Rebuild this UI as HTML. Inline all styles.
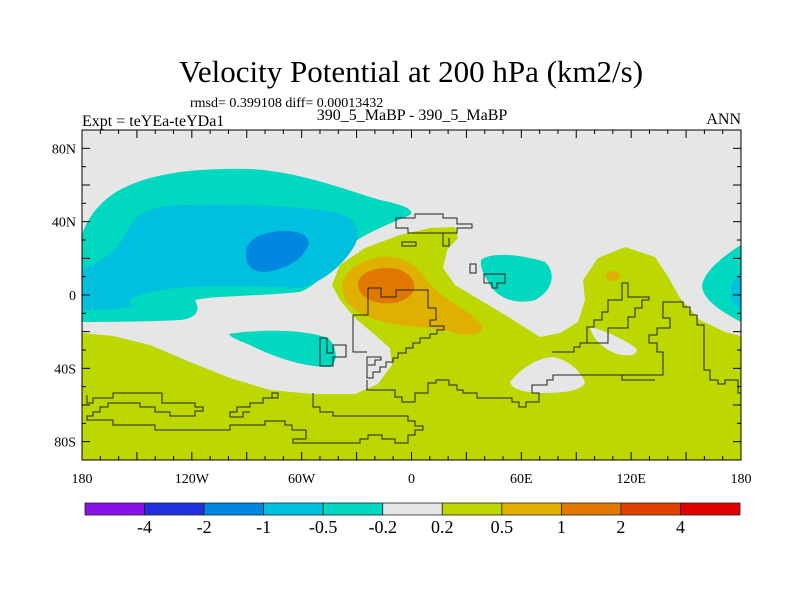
<!DOCTYPE html>
<html><head><meta charset="utf-8"><style>
html,body{margin:0;padding:0;background:#fff;}
svg{display:block;font-family:"Liberation Serif",serif;}
</style></head><body>
<svg id="fig" width="800" height="600" viewBox="0 0 800 600" xmlns="http://www.w3.org/2000/svg">
<text x="411" y="82" font-size="31" text-anchor="middle">Velocity Potential at 200 hPa (km2/s)</text>
<text x="190" y="107" font-size="14">rmsd= 0.399108 diff= 0.00013432</text>
<text x="82" y="126" font-size="16">Expt = teYEa-teYDa1</text>
<text x="412" y="120" font-size="16" text-anchor="middle">390_5_MaBP - 390_5_MaBP</text>
<text x="741" y="124" font-size="16" text-anchor="end">ANN</text>
<defs><clipPath id="pc"><rect x="82" y="130" width="659" height="330"/></clipPath></defs>
<g clip-path="url(#pc)">
<rect x="82" y="130" width="659" height="330" fill="#e6e6e6"/>
<path fill="#bcd800" d="M82,333 L113,336 150,345 190,362 230,378 270,390 313,394 355,394 378,384 392,365 390,348 375,335 355,318 340,300 332,285 340,265 365,248 400,235 430,228 455,227 458,238 447,250 443,268 455,285 480,300 510,318 540,337 560,333 578,322 585,300 583,280 598,258 625,247 655,257 667,275 680,298 700,320 725,332 741,336 741,460 82,460 Z"/>
<path fill="#e6e6e6" d="M590,327 C605,330 625,340 636,348 C640,356 625,358 612,352 C600,346 592,337 590,327 Z"/>
<path fill="#e6e6e6" d="M510,382 C520,370 535,358 553,357 C568,360 580,370 585,382 C582,392 560,393 540,393 C525,392 512,390 510,382 Z"/>
<path fill="#e0b000" d="M342,285 C344,272 355,262 380,257 C400,255 415,262 428,282 C440,298 470,310 482,325 C484,336 468,338 445,330 C420,327 390,326 365,316 C350,308 342,298 342,285 Z"/>
<path fill="#e07800" d="M358,283 C360,272 375,267 392,268 C408,270 416,280 414,290 C410,300 395,305 380,303 C365,300 357,292 358,283 Z"/>
<ellipse cx="613" cy="276" rx="7" ry="5" fill="#e0b000"/>
<path fill="#00d8c0" d="M82,235 C88,215 105,195 130,185 C160,172 200,168 250,169 C300,172 340,188 380,200 C405,205 415,210 410,215 C395,222 370,230 350,245 C335,262 322,283 300,292 C260,296 210,296 195,300 C200,310 198,318 180,320 C140,322 100,322 82,322 Z"/>
<path fill="#00c0e0" d="M82,270 C100,262 118,250 125,235 C135,212 150,205 190,205 C240,204 300,206 335,212 C355,218 362,228 355,245 C345,262 328,280 300,288 C260,286 200,284 160,290 C135,296 120,300 135,306 C115,310 95,310 82,310 Z"/>
<path fill="#0088e0" d="M246,255 C245,240 260,232 282,231 C300,230 312,237 308,246 C302,260 285,270 265,272 C252,272 246,265 246,255 Z"/>
<path fill="#00d8c0" d="M229,334 C255,330 300,328 328,338 C338,348 338,362 330,367 C300,367 270,355 250,345 C238,340 230,337 229,334 Z"/>
<path fill="#00d8c0" d="M481,260 C490,252 520,254 545,262 C556,272 554,290 535,300 C515,305 498,298 490,285 C484,275 480,268 481,260 Z"/>
<path fill="#00d8c0" d="M741,245 C725,255 705,270 702,285 C702,298 718,310 741,322 Z"/>
<path fill="#00c0e0" d="M741,272 C732,280 728,292 733,302 C736,306 739,309 741,310 Z"/>
<g fill="none" stroke="#222" stroke-width="1">
<path d="M396,218 V228 H408 V233 H457 V228 H472 V224 H457 V218 H443 V214 H415 V218 Z M443,233 V246 H449 V238"/>
<rect x="402" y="242" width="14" height="4"/>
<rect x="470" y="264" width="6" height="9"/>
<path d="M484,274 H505 V283 H497 V288 H492 V283 H484 Z"/>
<path d="M353,315 H368 V288 H381 V297 H396 V290 H428 V308 H436 V320 H430 V326 H444 V330 H437 V334 H430 V338 H420 V343 H413 V348 H406 V353 H398 V358 H393 V362 H386 V367 H380 V372 H373 V378 H367 V357 H381 V360 H375 V365 H368 M353,315 V352 H367"/>
<path d="M320,338 H327 V353 H333 V345 H346 V357 H333 V366 H320 Z"/>
<path d="M313,393 V407 H320 V412 H333 V416 H408 V421 H415 V426 H423 V430 H415 V435 H408 V443 H395 V439 H382 V435 H368 V439 H360 V443 H293 V439 H306 V430 H292 V425 H285 V421 H265 V425 H230 V430 H155 V425 H113 V420 H87 V416 H93 V412 H100 V407 H108 V403 H140 V407 H155 V412 H170 V416 H195 V411 H203 V407 H195 V403 H162 V393 H113 V398 H93 V403 H87 V395"/>
<path d="M230,417 V412 H237 V407 H250 V403 H263 V398 H272 V393 H278 V398 H272 M230,417 H243 V412 H250"/>
<path d="M367,380 V390 H395 V397 H402 V402 H415 V393 H428 V383 H436 V380 H449 V385 H457 V390 H463 V393 H477 V398 H512 V402 H519 V407 H526 V402 H539 V393 H532 V385 H547 V380 H553 V375 H663 V352 H657 V343 H649 V335 H657 V328 H670 V318 H663 V302 H683 V307 H690 V315 H697 V325 H704 V370 H710 V380 H718 V384 H725 V380 H738 V393 H741"/>
<path d="M552,352 H574 V347 H580 V343 H587 V327 H594 V320 H602 V312 H608 V300 H622 V283 H628 V297 H649 V300 H642 V308 H635 V317 H628 V328 H608 V343 H587 M622,375 V380 H655"/>
</g>
</g>
<rect x="82" y="130" width="659" height="330" fill="none" stroke="#000" stroke-width="1"/>
<g id="axes"></g>
<g id="cbar"></g>
<script>
const lonTicks=[-180,-120,-60,0,60,120,180];
const lonLabels=["180","120W","60W","0","60E","120E","180"];
const latTicks=[80,40,0,-40,-80];
const latLabels=["80N","40N","0","40S","80S"];
const cbLevels=["-4","-2","-1","-0.5","-0.2","0.2","0.5","1","2","4"];
const cbColors=["#8a10e8","#2030e0","#0088e0","#00c0e0","#00d8c0","#e6e6e6","#bcd800","#e0b000","#e07800","#e04000","#e00000"];
const NS="http://www.w3.org/2000/svg";
const X0=82,X1=741,Y0=130,Y1=460;
const xs=lon=>X0+(lon+180)/360*(X1-X0);
const ys=lat=>Y0+(90-lat)/180*(Y1-Y0);
const ax=document.getElementById('axes');
function mk(tag,attrs,parent){const e=document.createElementNS(NS,tag);for(const k in attrs)e.setAttribute(k,attrs[k]);parent.appendChild(e);return e;}
for(let lon=-180;lon<=180;lon+=10){
  const L=(lon%30===0)?8:4;const x=xs(lon);
  const t1=mk('line',{x1:x,x2:x,y1:Y1,y2:Y1-L,stroke:'#000'},ax);
  
  
  const t2=mk('line',{x1:x,x2:x,y1:Y0,y2:Y0+L,stroke:'#000'},ax);
  
  
}
for(let lat=-90;lat<=90;lat+=10){
  const L=(lat%20===0)?8:4;const y=ys(lat);
  const t1=mk('line',{x1:X0,x2:X0+L,y1:y,y2:y,stroke:'#000'},ax);
  
  
  const t2=mk('line',{x1:X1,x2:X1-L,y1:y,y2:y,stroke:'#000'},ax);
  
  
}
lonTicks.forEach((lon,i)=>{
  const t=mk('text',{x:xs(lon),y:483,'font-size':14,'text-anchor':'middle'},ax);
  t.textContent=lonLabels[i];
  
  
});
latTicks.forEach((lat,i)=>{
  const t=mk('text',{x:76,y:ys(lat)+5,'font-size':14,'text-anchor':'end'},ax);
  t.textContent=latLabels[i];
  
  
});
const cb=document.getElementById('cbar');
const CB0=85,CB1=740,CBY=503,CBH=12;const bw=(CB1-CB0)/cbColors.length;
cbColors.forEach((c,i)=>{
  const r=mk('rect',{x:CB0+i*bw,y:CBY,width:bw,height:CBH,fill:c,stroke:'#222','stroke-width':0.8},cb);
  
  
});
cbLevels.forEach((v,i)=>{
  const t=mk('text',{x:CB0+(i+1)*bw,y:533,'font-size':18,'text-anchor':'middle'},cb);
  t.textContent=v;
  
  
});
</script>
</svg>
</body></html>
